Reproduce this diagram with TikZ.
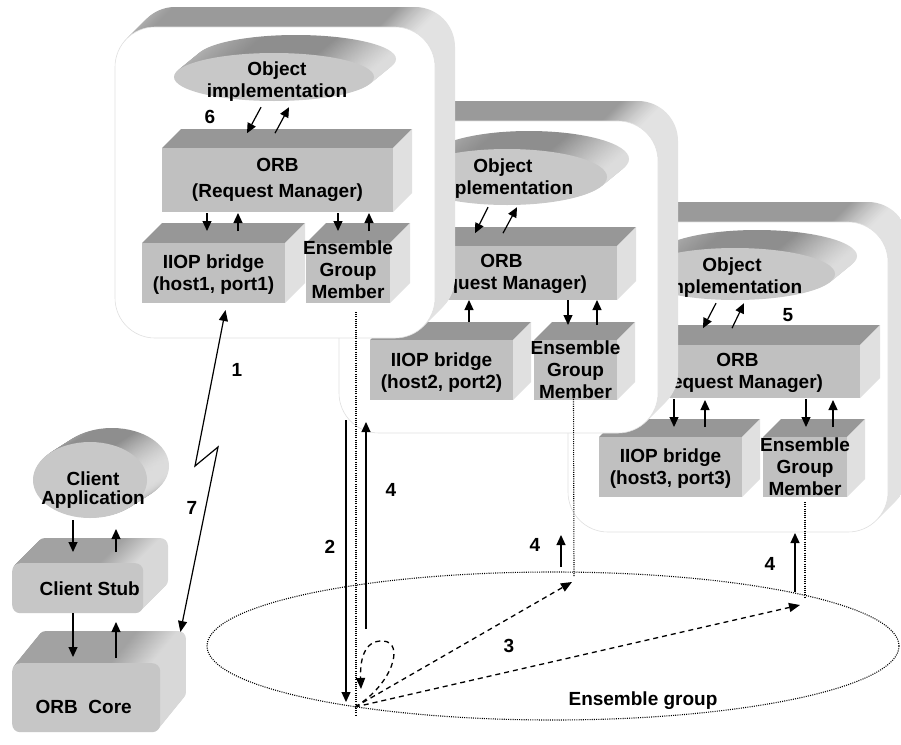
\documentclass[tikz,border=0pt]{standalone}
\usepackage{fontspec}
\setmainfont{Liberation Sans}
\usetikzlibrary{arrows.meta,calc,shapes.geometric}

% face colours
\definecolor{facefront}{HTML}{C0C0C0}
\definecolor{facetop}{HTML}{979797}
\definecolor{faceside}{HTML}{E0E0E0}
\definecolor{discfront}{HTML}{C8C8C8}
\definecolor{discA}{HTML}{B4B4B4}
\definecolor{discB}{HTML}{8E8E8E}
\definecolor{discC}{HTML}{DCDCDC}
\definecolor{bandleft}{HTML}{BEBEBE}
\definecolor{bandtop}{HTML}{9A9A9A}
\definecolor{bandside}{HTML}{E2E2E2}
\definecolor{cfront}{HTML}{C6C6C6}
\definecolor{ctop}{HTML}{A2A2A2}
\definecolor{cside}{HTML}{D8D8D8}

% side shadings (the path box maps to 25bp..75bp)
\pgfdeclarehorizontalshading{panelside}{100bp}{color(0bp)=(bandleft); color(25bp)=(bandleft); color(31bp)=(bandtop); color(66bp)=(bandtop); color(72bp)=(bandside); color(100bp)=(bandside)}
\pgfdeclarehorizontalshading{discside}{100bp}{color(0bp)=(discA); color(25bp)=(discA); color(42bp)=(discB); color(60bp)=(discB); color(74bp)=(discC); color(100bp)=(discC)}
\pgfdeclarehorizontalshading{cboxside}{100bp}{color(0bp)=(ctop); color(25bp)=(ctop); color(58bp)=(ctop); color(72bp)=(cside); color(100bp)=(cside)}

% server panel: extruded rounded plate, front face x0 y0 x1 y1
\newcommand{\drawpanel}[4]{%
  \foreach \k in {20,19,...,1}{%
    \shade[shading=panelside, rounded corners=40pt] ({#1+\k},{#2-\k}) rectangle ({#3+\k},{#4-\k});
  }%
  \fill[white, draw=black!12, line width=0.6pt, rounded corners=40pt] (#1,#2) rectangle (#3,#4);
}
% extruded disc: name, cx, cy, rx, ry, dx, dy
\newcommand{\drawdisc}[7]{%
  \foreach \k in {24,23,...,1}{%
    \shade[shading=discside] ({#2+\k*(#6)/24},{#3+\k*(#7)/24}) ellipse [x radius=#4, y radius=#5];
  }%
  \node[ellipse, fill=discfront, inner sep=0pt, minimum width={2*#4*1pt}, minimum height={2*#5*1pt}] (#1) at (#2,#3) {};
}
% box: name, x0, y0, x1, y1, depth
\newcommand{\drawprism}[6]{%
  \fill[facetop] (#2,#3) -- ({#2+#6},{#3-#6}) -- ({#4+#6},{#3-#6}) -- (#4,#3) -- cycle;
  \fill[faceside] (#4,#3) -- ({#4+#6},{#3-#6}) -- ({#4+#6},{#5-#6}) -- (#4,#5) -- cycle;
  \node[fill=facefront, inner sep=0pt, outer sep=0pt, anchor=north west, minimum width={(#4-#2)*1pt}, minimum height={(#5-#3)*1pt}] (#1) at (#2,#3) {};
}
% soft client box: name, x0, y0, x1, y1, dx, dy
\newcommand{\drawcbox}[7]{%
  \foreach \k in {25,24,...,1}{%
    \shade[shading=cboxside, rounded corners=8pt] ({#2+\k*(#6)/25},{#3+\k*(#7)/25}) rectangle ++({#4-#2},{#5-#3});
  }%
  \node[fill=cfront, rounded corners=8pt, inner sep=0pt, anchor=north west, minimum width={(#4-#2)*1pt}, minimum height={(#5-#3)*1pt}] (#1) at (#2,#3) {};
}

\begin{document}
\begin{tikzpicture}[x=1pt, y=-1pt,
  lbl/.style={font={\fontsize{19}{22}\selectfont\bfseries}, align=center, inner sep=0pt},
  arr/.style={line width=1.2pt, -{Triangle[length=10pt,width=9pt]}},
  dotln/.style={line width=1.1pt, dash pattern=on 1pt off 1.2pt},
  dashln/.style={line width=1.3pt, dash pattern=on 5pt off 4pt, -{Triangle[length=11pt,width=9pt]}},
]
\useasboundingbox (0,0) rectangle (901,744);
\fill[white] (0,0) rectangle (901,744);

% ---------------- server 3
\drawpanel{568}{222}{888}{532}
\drawdisc{obj3}{735}{274}{100}{26}{22}{-18}
\node[lbl] (obj3t) at ($(obj3.center)+(-3,4)$) {Object\\implementation};
\drawprism{orb3}{629}{345}{860}{398}{20}
\node[lbl] (orb3t) at ($(orb3.center)+(-7,1.5)$) {ORB\\(Request Manager)};
\drawprism{iiop3}{599}{437}{742}{497}{18}
\node[lbl] (iiop3t) at ($(iiop3.center)+(0,2)$) {IIOP bridge\\(host3, port3)};
\drawprism{egm3}{763}{437}{847}{497}{18}
\node[lbl] (egm3t) at (egm3.center) {Ensemble\\Group\\Member};
\draw[arr] ($(obj3.south)+(-19,3)$) -- ($(obj3.south)+(-32,28)$);
\draw[arr] ($(obj3.south)+(-3,28)$) -- ($(obj3.south)+(9,3)$);
\draw[arr] ($(orb3.south west)+(45,1)$) -- ++(0,28);
\draw[arr] ($(orb3.south west)+(76,29)$) -- ++(0,-27);
\draw[arr] ($(orb3.south west)+(177,1)$) -- ++(0,28);
\draw[arr] ($(orb3.south west)+(204,29)$) -- ++(0,-27);
\node[lbl] (n5) at (788,315) {5};

% ---------------- server 2
\drawpanel{339}{121}{658}{433}
\drawdisc{obj2}{507}{177}{100}{28}{22}{-18}
\node[lbl] (obj2t) at ($(obj2.center)+(-4,2)$) {Object\\implementation};
\drawprism{orb2}{386}{246}{617}{300}{19}
\node[lbl] (orb2t) at ($(orb2.center)+(0,1)$) {ORB\\(Request Manager)};
\drawprism{iiop2}{370}{340}{513}{400}{18}
\node[lbl] (iiop2t) at ($(iiop2.center)+(0,3)$) {IIOP bridge\\(host2, port2)};
\drawprism{egm2}{534}{340}{617}{400}{18}
\node[lbl] (egm2t) at (egm2.center) {Ensemble\\Group\\Member};
\draw[arr] ($(obj2.south)+(-19,2)$) -- ($(obj2.south)+(-32,28)$);
\draw[arr] ($(obj2.south)+(-4,28)$) -- ($(obj2.south)+(10,2)$);
\draw[arr] ($(orb2.south west)+(37,0)$) -- ++(0,25);
\draw[arr] ($(orb2.south west)+(83,22)$) -- ++(0,-22);
\draw[arr] ($(orb2.south west)+(182,0)$) -- ++(0,25);
\draw[arr] ($(orb2.south west)+(211,25)$) -- ++(0,-25);

% ---------------- server 1
\drawpanel{115}{27}{435}{338}
\drawdisc{obj1}{274}{77}{100}{24}{22}{-18}
\node[lbl] (obj1t) at ($(obj1.center)+(3,5)$) {Object\\implementation};
\drawprism{orb1}{162}{148}{393}{212}{19}
\node[lbl, font={\fontsize{19}{26}\selectfont\bfseries}] (orb1t) at ($(orb1.center)+(0,0)$) {ORB\\(Request Manager)};
\drawprism{iiop1}{142}{243}{285}{303}{20}
\node[lbl] (iiop1t) at ($(iiop1.center)+(0,2)$) {IIOP bridge\\(host1, port1)};
\drawprism{egm1}{306}{243}{390}{303}{20}
\node[lbl] (egm1t) at ($(egm1.center)+(0,-3)$) {Ensemble\\Group\\Member};
\draw[arr] ($(obj1.south)+(-13,6)$) -- ($(obj1.south)+(-27,32)$);
\draw[arr] ($(obj1.south)+(1,32)$) -- ($(obj1.south)+(15,6)$);
\draw[arr] ($(orb1.south west)+(45,1)$) -- ++(0,18);
\draw[arr] ($(orb1.south west)+(76,19)$) -- ++(0,-18);
\draw[arr] ($(orb1.south west)+(176,1)$) -- ++(0,18);
\draw[arr] ($(orb1.south west)+(207,19)$) -- ++(0,-18);
\node[lbl] (n6) at (210,117) {6};

% ---------------- client side
\drawdisc{capp}{90}{480}{57}{38}{22}{-14}
\node[lbl, font={\fontsize{19}{19}\selectfont\bfseries}] (cappt) at ($(capp.center)+(3,10)$) {Client\\Application};
\drawcbox{stub}{12}{563}{143}{613}{25}{-25}
\node[lbl] (stubt) at ($(stub.center)+(12,0)$) {Client Stub};
\drawcbox{core}{12}{663}{160}{732}{26}{-32}
\node[lbl] (coret) at ($(core.center)+(-2.5,9.5)$) {ORB\ \ Core};
\draw[arr] ($(stub.north west)+(61,-43)$) -- ++(0,32);
\draw[arr] ($(stub.north west)+(104,-11)$) -- ++(0,-23);
\draw[arr] ($(core.north west)+(61,-50)$) -- ++(0,44);
\draw[arr] ($(core.north west)+(104,-5)$) -- ++(0,-36);

% link between the client ORB and the first bridge
\coordinate (z1) at (195,466);
\coordinate (z2) at (218,447);
\draw[line width=1.2pt, {Triangle[length=11pt,width=9pt]}-{Triangle[length=11pt,width=9pt]}]
  ($(iiop1.south)+(12,7)$) -- (z1) -- (z2) -- ($(core.north east)+(20,-31)$);
\node[lbl] (n1) at (237,370) {1};
\node[lbl] (n7) at (192,508) {7};

% ---------------- ensemble group
\node[draw, dotln, ellipse, inner sep=0pt, minimum width=692pt, minimum height=148pt] (grp) at (553,646) {};
\node[lbl] (grpt) at (643,701) {Ensemble group};
\coordinate (P) at (355,707);
\coordinate (E2) at (572,582);
\coordinate (E3) at (800,605);

\draw[dotln] ($(egm1.south)+(8,9)$) -- ($(P)+(1,9)$);
\draw[dotln] ($(egm2.south)+(-2,-3)$) -- ($(E2)+(2,-5)$);
\draw[dotln] ($(egm3.south)+(0,5)$) -- ($(E3)+(5,-8)$);

\draw[arr] ($(egm1.south)+(-2,117)$) -- ($(P)+(-9,-5)$);
\draw[arr] ($(P)+(11,-78)$) -- ($(egm1.south)+(18,119)$);
\draw[arr] ($(E2)+(-11,-15)$) -- ($(egm2.south)+(-14.5,135)$);
\draw[arr] ($(E3)+(-5,-13)$) -- ($(egm3.south)+(-10,36)$);

\draw[dashln] (P) -- (E2);
\draw[dashln] (P) -- (E3);
\draw[dashln] (P) .. controls ($(P)+(38,-23)$) and ($(P)+(50,-65)$) .. ($(P)+(28,-66)$)
  .. controls ($(P)+(8,-67)$) and ($(P)+(5,-45)$) .. ($(P)+(6,-18)$);

\node[lbl] (n2) at (330,547) {2};
\node[lbl] (n4a) at (391,490) {4};
\node[lbl] (n4b) at (535,545) {4};
\node[lbl] (n4c) at (770,564) {4};
\node[lbl] (n3) at (509,646) {3};
\end{tikzpicture}
\end{document}
